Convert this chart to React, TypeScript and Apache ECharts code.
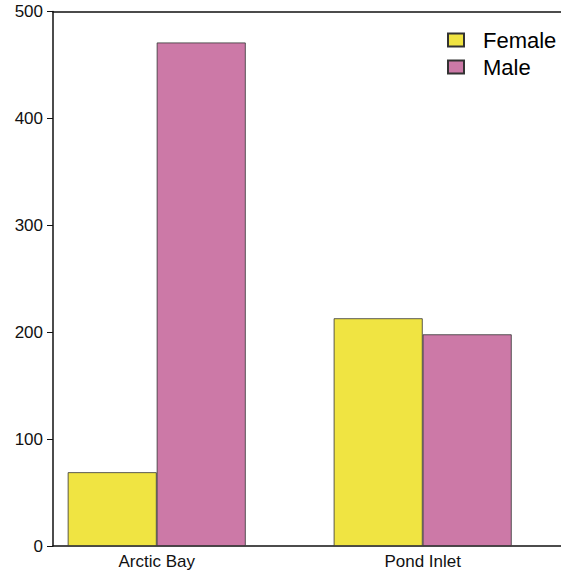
import React, { useEffect, useRef } from "react";
import * as echarts from "echarts";

// Sample counts by community and sex
const categories = ["Arctic Bay", "Pond Inlet"];
const femaleCounts = [69, 213];
const maleCounts = [471, 198];
const yTicks = { min: 0, max: 500, step: 100 };

const FEMALE_COLOR = "#F0E442";
const MALE_COLOR = "#CC79A7";
const FONT = "Liberation Sans, Arial, sans-serif";

// Grouped bar layout: each group occupies [1 + 3i, 3 + 3i], centred at 2 + 3i
const groupCenter = (i: number) => 2 + 3 * i;

export default function App() {
  const ref = useRef<HTMLDivElement>(null);

  useEffect(() => {
    if (!ref.current) return;
    const chart = echarts.init(ref.current, null, { renderer: "svg" });
    const centers = categories.map((_, i) => groupCenter(i));

    chart.setOption({
      animation: false,
      backgroundColor: "#ffffff",
      textStyle: { fontFamily: FONT },
      grid: { left: 53, right: 0, top: 11.5, bottom: 25 },
      legend: {
        orient: "vertical",
        left: 442,
        top: 24,
        icon: "rect",
        itemWidth: 16,
        itemHeight: 13,
        itemGap: 5,
        textStyle: {
          fontSize: 22,
          color: "#000",
          fontFamily: FONT,
          padding: [0, 0, 0, 14],
        },
        data: ["Female", "Male"],
      },
      xAxis: [
        {
          type: "value",
          min: 0.83,
          max: 6.56,
          position: "bottom",
          splitLine: { show: false },
          axisLine: { show: true, lineStyle: { color: "#111", width: 1.5 } },
          axisTick: { show: false },
          axisLabel: {
            customValues: centers,
            formatter: (v: number) => {
              const idx = centers.findIndex((c) => Math.abs(c - v) < 1e-6);
              return idx >= 0 ? categories[idx] : "";
            },
            fontSize: 17,
            color: "#111",
            margin: 7,
            fontFamily: FONT,
          },
        },
        {
          type: "value",
          min: 0.83,
          max: 6.56,
          position: "top",
          splitLine: { show: false },
          axisLine: { show: true, lineStyle: { color: "#111", width: 1.5 } },
          axisTick: { show: false },
          axisLabel: { show: false },
        },
      ],
      yAxis: {
        type: "value",
        min: yTicks.min,
        max: yTicks.max,
        interval: yTicks.step,
        splitLine: { show: false },
        axisLine: { show: true, lineStyle: { color: "#111", width: 1.5 } },
        axisTick: { show: true, length: 6, lineStyle: { color: "#111", width: 1 } },
        axisLabel: { fontSize: 17, color: "#111", margin: 10, fontFamily: FONT },
      },
      series: [
        {
          name: "Female",
          type: "bar",
          xAxisIndex: 0,
          barWidth: 89,
          barGap: "0%",
          itemStyle: { color: FEMALE_COLOR, borderColor: "#333", borderWidth: 0.8 },
          data: femaleCounts.map((v, i) => [centers[i], v]),
        },
        {
          name: "Male",
          type: "bar",
          xAxisIndex: 0,
          barWidth: 89,
          barGap: "0%",
          itemStyle: { color: MALE_COLOR, borderColor: "#333", borderWidth: 0.8 },
          data: maleCounts.map((v, i) => [centers[i], v]),
        },
      ],
    });

    return () => chart.dispose();
  }, []);

  return (
    <div
      ref={ref}
      style={{ position: "absolute", left: 0, top: 0, width: 561, height: 571 }}
    />
  );
}
